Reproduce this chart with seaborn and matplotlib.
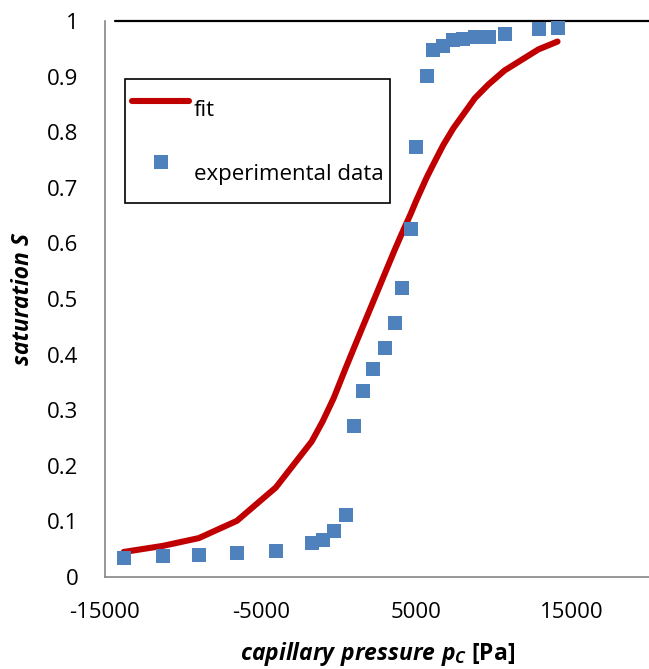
import matplotlib
matplotlib.use("Agg")
import matplotlib.pyplot as plt
import seaborn as sns
import pandas as pd
from matplotlib.ticker import FuncFormatter

# ---- data ----
pressure = [-13800, -11280, -8970, -6530, -4030, -1720, -1020, -310, 460,
            1017, 1594, 2235, 2960, 3600, 4050, 4630, 4990, 5650, 6080,
            6725, 7370, 8010, 8750, 9630, 10660, 12840, 14060]
saturation_exp = [0.035, 0.037, 0.040, 0.044, 0.047, 0.062, 0.067, 0.083, 0.112,
                  0.272, 0.335, 0.375, 0.412, 0.456, 0.520, 0.626, 0.773, 0.901, 0.947,
                  0.955, 0.965, 0.967, 0.972, 0.972, 0.977, 0.986, 0.988]
saturation_fit = [0.045, 0.056, 0.070, 0.101, 0.161, 0.244, 0.280, 0.322, 0.376,
                  0.414, 0.453, 0.496, 0.545, 0.588, 0.617, 0.653, 0.677, 0.718, 0.742,
                  0.777, 0.807, 0.832, 0.861, 0.886, 0.911, 0.949, 0.963]
x_ticks = [-15000, -5000, 5000, 15000]
y_ticks = [0, 0.1, 0.2, 0.3, 0.4, 0.5, 0.6, 0.7, 0.8, 0.9, 1.0]

df = pd.DataFrame({"p": pressure, "exp": saturation_exp, "fit": saturation_fit})

sns.set_style("white")
plt.rcParams["font.family"] = ["Open Sans", "DejaVu Sans"]
plt.rcParams["text.color"] = "black"
plt.rcParams["axes.labelcolor"] = "black"
plt.rcParams["mathtext.fontset"] = "custom"
plt.rcParams["mathtext.it"] = "Open Sans:italic:bold"
plt.rcParams["mathtext.rm"] = "Open Sans:bold"
plt.rcParams["mathtext.bf"] = "Open Sans:bold"

W, H = 649, 669
fig = plt.figure(figsize=(W / 100, H / 100), dpi=100)
L, R, T, B = 105, 650, 21, 577
ax = fig.add_axes([L / W, 1 - B / H, (R - L) / W, (B - T) / H])

red = "#C00000"
blue = "#4F81BD"
gray = "#868686"

sns.lineplot(data=df, x="p", y="fit", ax=ax, color=red, lw=4.4,
             solid_capstyle="round", solid_joinstyle="round", label="fit", zorder=3)
sns.scatterplot(data=df, x="p", y="exp", ax=ax, color=blue, marker="s", s=105,
                linewidth=0, label="experimental data", zorder=4)

ax.set_xlim(-15000, 20000)
ax.set_ylim(0, 1)
ax.set_xticks(x_ticks)
ax.set_yticks(y_ticks)
ax.yaxis.set_major_formatter(FuncFormatter(lambda v, p: f"{v:g}"))
ax.xaxis.set_major_formatter(FuncFormatter(lambda v, p: f"{v:g}"))

ax.axhline(1, xmin=10 / (R - L), color="black", lw=1.6, zorder=2, clip_on=False)

for s in ["top", "right"]:
    ax.spines[s].set_visible(False)
for s in ["left", "bottom"]:
    ax.spines[s].set_color(gray)
    ax.spines[s].set_linewidth(1.2)

ax.tick_params(axis="both", direction="in", length=5.8, width=1.2, color=gray,
               labelsize=16, labelcolor="black")
ax.tick_params(axis="y", pad=19)
ax.tick_params(axis="x", pad=18)

ax.set_xlabel(r"$capillary\ pressure\ p_C$ [Pa]", fontsize=16.5, fontweight="bold",
              labelpad=12, color="black")
ax.set_ylabel("saturation S", fontsize=16.5, fontweight="bold", fontstyle="italic",
              labelpad=9, color="black")

leg = ax.legend(loc="upper left", bbox_to_anchor=(125 / W, 1 - 79 / H),
                bbox_transform=fig.transFigure, borderaxespad=0,
                fontsize=16, frameon=True, fancybox=False, edgecolor="black",
                handlelength=2.6, handleheight=2.85, handletextpad=0.2,
                labelspacing=0.8, borderpad=0.3, framealpha=1)
leg.get_frame().set_linewidth(1.2)
for t in leg.get_texts():
    t.set_color("black")

fig.savefig("out.png", dpi=100)
